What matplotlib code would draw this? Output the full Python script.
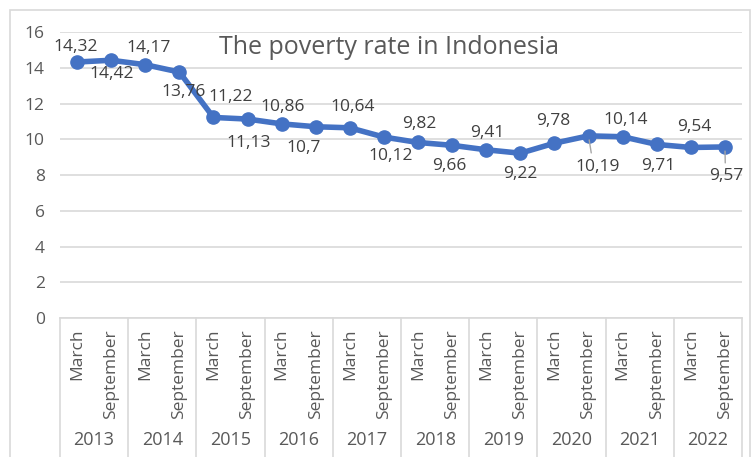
import matplotlib
matplotlib.use("Agg")
import matplotlib.pyplot as plt
from matplotlib.patches import Rectangle
from matplotlib.lines import Line2D

plt.rcParams['font.family'] = ['Open Sans', 'DejaVu Sans']

years = ["2013", "2014", "2015", "2016", "2017", "2018", "2019", "2020", "2021", "2022"]
months = ["March", "September"]
rates = [14.32, 14.42, 14.17, 13.76, 11.22, 11.13, 10.86, 10.70, 10.64, 10.12,
         9.82, 9.66, 9.41, 9.22, 9.78, 10.19, 10.14, 9.71, 9.54, 9.57]
rate_labels = ["14,32", "14,42", "14,17", "13,76", "11,22", "11,13", "10,86", "10,7", "10,64", "10,12",
               "9,82", "9,66", "9,41", "9,22", "9,78", "10,19", "10,14", "9,71", "9,54", "9,57"]
yticks = [0, 2, 4, 6, 8, 10, 12, 14, 16]
title = "The poverty rate in Indonesia"

# label placement (pixel offsets from point), styling only
label_offsets = [(-1, 15), (1, -14), (3, 17), (4, -20), (17, 20), (1, -24), (1, 17), (-12, -21),
                 (3, 21), (7, -19), (1, 18), (-3, -21), (1, 17), (0, -21), (-1, 22), (9, -31),
                 (3, 17), (1, -22), (3, 20), (1, -29)]
leader = [False] * 20
leader[15] = True
leader[19] = True

W, H = 755, 457
fig = plt.figure(figsize=(W / 100, H / 100), dpi=100)
fig.patch.set_facecolor("white")

# outer chart border
fig.add_artist(Rectangle((10 / W, -0.05), 740 / W, (H - 10) / H + 0.05, transform=fig.transFigure,
                         fill=False, edgecolor="#D9D9D9", linewidth=1.2))

left, right, top, bottom = 60, 742, 32, 318
ax = fig.add_axes([left / W, 1 - bottom / H, (right - left) / W, (bottom - top) / H])
n = len(rates)
x = [i + 0.5 for i in range(n)]

ax.set_xlim(0, n)
ax.set_ylim(0, 16)
ax.set_yticks(yticks)
ax.set_yticklabels([str(t) for t in yticks], fontsize=12.5, color="#595959")
ax.tick_params(axis="y", length=0, pad=11)
ax.set_xticks([])
for s in ["top", "right", "left"]:
    ax.spines[s].set_visible(False)
ax.spines["bottom"].set_color("#D9D9D9")
ax.spines["bottom"].set_linewidth(1.2)
ax.grid(axis="y", color="#D9D9D9", linewidth=1.2)
ax.set_axisbelow(True)

ax.plot(x, rates, color="#4472C4", linewidth=4, marker="o", markersize=9.5,
        solid_capstyle="round", zorder=3)

for xi, v, lab, (dx, dy), ld in zip(x, rates, rate_labels, label_offsets, leader):
    ax.annotate(lab, (xi, v), xytext=(dx, dy), textcoords="offset pixels",
                ha="center", va="center", fontsize=12.5, color="#404040", zorder=4)
    if ld:
        ax.annotate("", (xi, v), xytext=(dx * 0.3, dy * 0.55), textcoords="offset pixels",
                    arrowprops=dict(arrowstyle="-", color="#A6A6A6", lw=1, shrinkA=0, shrinkB=3))

ax.text(0.483, 0.945, title, transform=ax.transAxes, ha="center", va="center",
        fontsize=18, color="#595959")

# multi-level category axis
trans = ax.get_xaxis_transform()
def ypix(p):
    return -(p - bottom) / (bottom - top)

for k in range(len(years) + 1):
    xb = 2 * k
    ax.add_line(Line2D([xb, xb], [0, ypix(470)], transform=trans, color="#D9D9D9",
                       linewidth=1.2, clip_on=False))
for k, yr in enumerate(years):
    ax.text(2 * k + 1, ypix(440), yr, transform=trans, ha="center", va="center",
            fontsize=13, color="#595959", clip_on=False)
    for j, m in enumerate(months):
        ax.text(2 * k + j + 0.5, ypix(329), m, transform=trans, ha="center", va="top",
                rotation=90, fontsize=12.5, color="#595959", clip_on=False)

fig.savefig("out.png", dpi=100)
